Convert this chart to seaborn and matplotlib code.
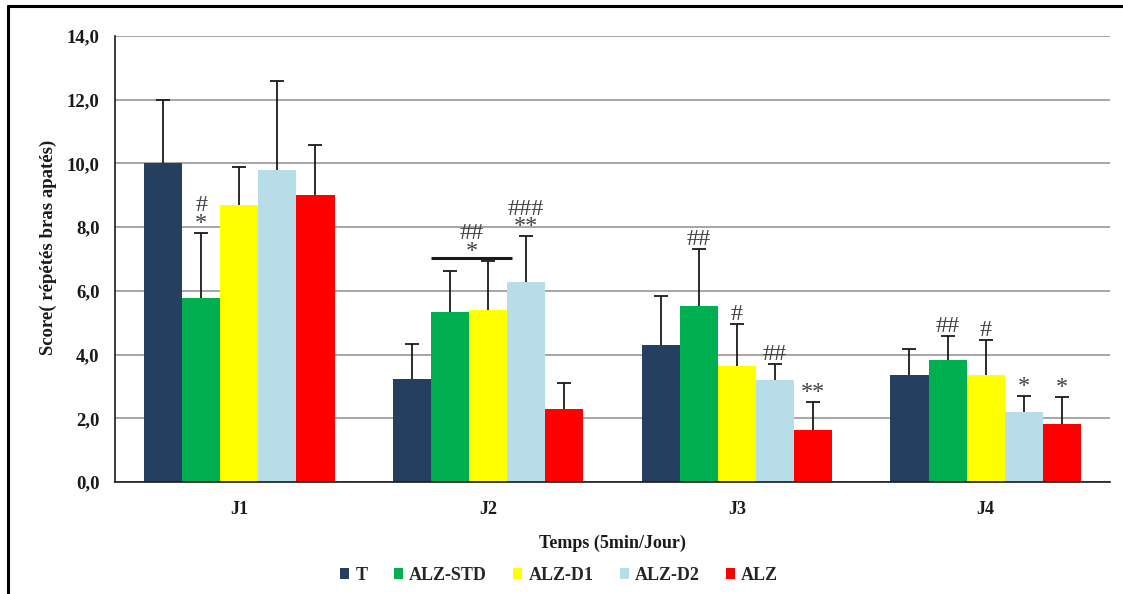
import numpy as np
import pandas as pd
import matplotlib
matplotlib.use("Agg")
import matplotlib.pyplot as plt
import seaborn as sns
from matplotlib.patches import Patch
from matplotlib.lines import Line2D

# ---- data -------------------------------------------------------------
days = ["J1", "J2", "J3", "J4"]
groups = ["T", "ALZ-STD", "ALZ-D1", "ALZ-D2", "ALZ"]
colors = ["#243F60", "#00B050", "#FFFF00", "#B7DDE8", "#FF0000"]

score_T = [10.0, 3.23, 4.30, 3.36]
score_std = [5.78, 5.34, 5.52, 3.83]
score_d1 = [8.69, 5.40, 3.64, 3.36]
score_d2 = [9.79, 6.28, 3.20, 2.20]
score_alz = [9.00, 2.29, 1.63, 1.82]

err_T = [2.00, 1.10, 1.54, 0.81]
err_std = [2.05, 1.28, 1.79, 0.75]
err_d1 = [1.20, 1.54, 1.32, 1.10]
err_d2 = [2.80, 1.44, 0.50, 0.50]
err_alz = [1.58, 0.81, 0.88, 0.85]

# significance marks above single bars: (day, group, text)
marks = [
    ("J1", "ALZ-STD", "#\n*"),
    ("J2", "ALZ-D2", "###\n**"),
    ("J3", "ALZ-STD", "##"),
    ("J3", "ALZ-D1", "#"),
    ("J3", "ALZ-D2", "##"),
    ("J3", "ALZ", "**"),
    ("J4", "ALZ-STD", "##"),
    ("J4", "ALZ-D1", "#"),
    ("J4", "ALZ-D2", "*"),
    ("J4", "ALZ", "*"),
]
# bracket spanning two bars
bracket_day = "J2"
bracket_groups = ("ALZ-STD", "ALZ-D1")
bracket_y = 7.03
bracket_text = "##\n*"

scores = [score_T, score_std, score_d1, score_d2, score_alz]
errs = [err_T, err_std, err_d1, err_d2, err_alz]

df = pd.DataFrame({
    "day": [d for _ in groups for d in days],
    "group": [g for g in groups for _ in days],
    "score": [v for s in scores for v in s],
    "err": [v for e in errs for v in e],
})

# ---- figure -----------------------------------------------------------
sns.set_style("white")
plt.rcParams["font.family"] = ["Liberation Serif", "DejaVu Serif"]

fig = plt.figure(figsize=(11.23, 5.94), dpi=100)
ax = fig.add_axes([0.1024, 0.1886, 0.8860, 0.7508])

sns.barplot(data=df, x="day", y="score", hue="group", order=days,
            hue_order=groups, palette=colors, saturation=1, width=0.765,
            errorbar=None, legend=False, linewidth=0, ax=ax, zorder=2)

# upward-only error bars (stem + top cap), from each bar's geometry
err_color = "#1a1a1a"
bar_pos = {}
for g, cont, e in zip(groups, ax.containers, errs):
    xs = np.array([p.get_x() + p.get_width() / 2 for p in cont.patches])
    ys = np.array([p.get_height() for p in cont.patches])
    tops = ys + np.asarray(e)
    ax.vlines(xs, ys, tops, color=err_color, lw=1.3, zorder=3)
    ax.plot(xs, tops, ls="none", marker="_", ms=10, mew=1.3,
            color=err_color, zorder=3)
    for d, p, x, t in zip(days, cont.patches, xs, tops):
        bar_pos[(d, g)] = (x, t, p.get_x(), p.get_x() + p.get_width())

ann_kw = dict(ha="center", va="bottom", fontsize=17.5, color="#404040",
              linespacing=0.8, family="Liberation Serif", zorder=4)
for d, g, t in marks:
    x, top, _, _ = bar_pos[(d, g)]
    ax.annotate(t, (x, top), xytext=(0, -1), textcoords="offset points",
                **ann_kw)

x0 = bar_pos[(bracket_day, bracket_groups[0])][2]
x1 = bar_pos[(bracket_day, bracket_groups[1])][3] + 0.02
ax.plot([x0, x1], [bracket_y, bracket_y], color=err_color, lw=2.2,
        solid_capstyle="butt", zorder=4)
ax.annotate(bracket_text, ((x0 + x1) / 2, bracket_y), xytext=(0, -3),
            textcoords="offset points", **ann_kw)

# axes styling
ax.set_ylim(0, 14)
ax.set_xlim(-0.5, len(days) - 0.5)
yt = np.arange(0, 14.1, 2)
ax.set_yticks(yt)
ax.set_yticklabels([f"{v:.1f}".replace(".", ",") for v in yt])
ax.yaxis.grid(True, color="#A6A6A6", lw=1.4, zorder=0)
ax.set_axisbelow(True)
for s in ["top", "right"]:
    ax.spines[s].set_visible(False)
for s in ["left", "bottom"]:
    ax.spines[s].set_color("#1a1a1a")
    ax.spines[s].set_linewidth(1.2)

ax.set_xticks(np.arange(len(days)))
ax.set_xticks(np.arange(len(days)) + 0.5, minor=True)
ax.tick_params(axis="x", which="major", length=0, pad=14)
ax.tick_params(axis="x", which="minor", length=6, width=1, color="#555555",
               direction="out")
ax.tick_params(axis="y", length=6, width=1, color="#1a1a1a", direction="inout",
               pad=8)
for lab in ax.get_xticklabels():
    lab.set_fontweight("bold")
    lab.set_fontsize(13)
    lab.set_color("#1a1a1a")
for lab in ax.get_yticklabels():
    lab.set_fontweight("bold")
    lab.set_fontsize(13.5)
    lab.set_color("#1a1a1a")

ax.set_xlabel("Temps (5min/Jour)", fontsize=13, fontweight="bold",
              color="#1a1a1a", labelpad=12)
ax.set_ylabel("Score( répétés bras apatés)", fontsize=13.5, fontweight="bold",
              color="#1a1a1a")
ax.yaxis.set_label_coords(-0.058, 0.525)

handles = [Patch(facecolor=c, edgecolor="none") for c in colors]
fig.legend(handles, groups, loc="center", bbox_to_anchor=(0.498, 0.031),
           ncol=5, frameon=False, handlelength=0.5, handleheight=0.55,
           handletextpad=0.35, columnspacing=1.45,
           prop={"family": "Liberation Serif", "weight": "bold", "size": 13})

# outer frame lines (top and left edges)
fig.add_artist(Line2D([8 / 1123, 1], [1 - 6 / 594, 1 - 6 / 594],
                      transform=fig.transFigure, color="black", lw=2.2))
fig.add_artist(Line2D([8 / 1123, 8 / 1123], [0, 1 - 6 / 594],
                      transform=fig.transFigure, color="black", lw=2.2))

fig.savefig("out.png", dpi=100)
